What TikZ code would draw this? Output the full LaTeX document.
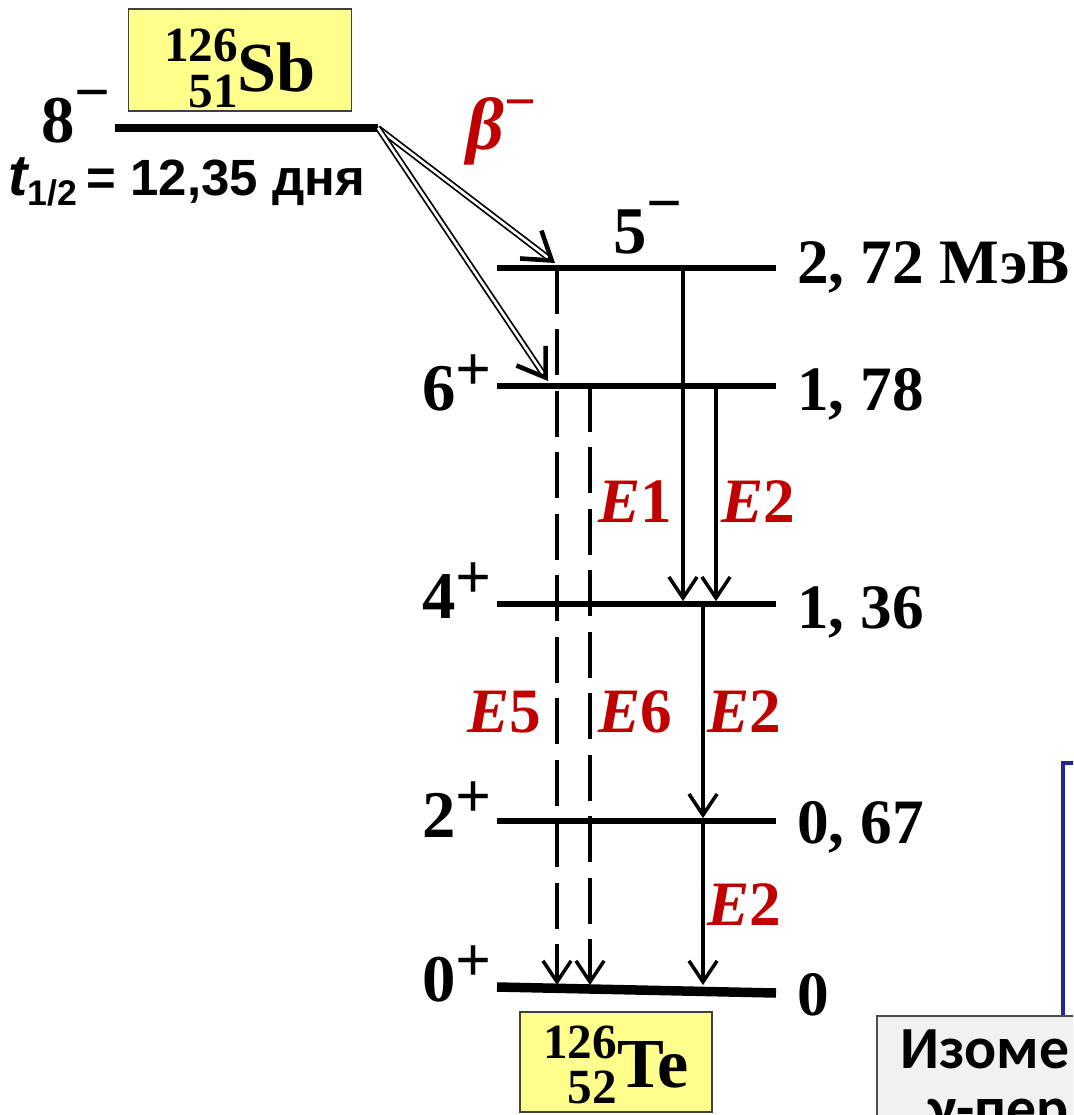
\documentclass[tikz,border=0pt]{standalone}
\usepackage{fontspec}
\setmainfont{Liberation Serif}
\setsansfont{Liberation Sans}
\newfontfamily\notefont{Carlito}
\usetikzlibrary{arrows.meta,calc}

\definecolor{nucyellow}{RGB}{255,255,140}
\definecolor{multred}{RGB}{192,0,0}
\definecolor{linkblue}{RGB}{36,36,150}
\definecolor{notegray}{RGB}{241,241,241}

\newcommand{\spinp}{\raisebox{11pt}{\fontsize{36}{36}\selectfont +}}
\newcommand{\spinm}{\raisebox{16pt}{\fontsize{36}{36}\selectfont −}}
\newcommand{\nuc}[3]{\raisebox{-9pt}{\fontsize{28}{25}\selectfont\begin{tabular}[b]{@{}r@{}}#1\\#2\end{tabular}}#3}

\begin{document}
\begin{tikzpicture}[x=0.02cm,y=-0.02cm,
  nucbox/.style={draw=black!75,line width=0.9pt,fill=nucyellow,inner sep=0pt,text depth=0pt,
    font=\fontsize{40}{42}\selectfont\bfseries},
  sblevel/.style={line width=4.6pt},
  level/.style={line width=3.6pt},
  groundlevel/.style={line width=5.4pt},
  gam/.style={line width=2.1pt,shorten >=1.6pt,
    -{Straight Barb[length=12pt,width=16pt,line width=2pt]}},
  gamdash/.style={gam,dash pattern=on 26pt off 9pt},
  betaline/.style={draw=black,line width=1pt,double=white,double distance=1.5pt,shorten >=5pt},
  betatip/.style={line width=2.5pt,-{Straight Barb[length=15pt,width=20pt,line width=2.6pt]}},
  spinlab/.style={inner sep=0pt,anchor=base east,font=\fontsize{38}{40}\selectfont\bfseries},
  enlab/.style={inner sep=0pt,anchor=base west,font=\fontsize{36}{40}\selectfont\bfseries},
  multlab/.style={inner sep=0pt,anchor=base west,text=multred,font=\fontsize{36}{40}\selectfont\bfseries},
  notebox/.style={draw=black!70,line width=1pt,fill=notegray},
  notetext/.style={inner sep=0pt,anchor=base west,font=\notefont\fontsize{34}{36}\selectfont\bfseries},
  link/.style={draw=linkblue,line width=2.3pt}]
\useasboundingbox (0,0) rectangle (1073,1115);
\clip (0,0) rectangle (1073,1115);

% parent nucleus
\node[nucbox,minimum width=127pt,minimum height=58pt] (sb) at (240,60) {\nuc{126}{51}{Sb}};
\draw[sblevel] (115,128) coordinate (sbL) -- (378,128) coordinate (sbR);
\node[spinlab] (s8) at (111,142) {8\spinm};
\node[inner sep=0pt,anchor=base west,font=\sffamily\bfseries\fontsize{29}{30}\selectfont] (thalf)
  at (8,195) {{\itshape\fontsize{33}{33}\selectfont t}\textsubscript{1/2}\,= 12,35 дня};
\node[inner sep=0pt,anchor=base west,text=multred,font=\fontsize{42}{44}\selectfont\bfseries\itshape]
  (beta) at (466,150) {β\raisebox{17pt}{\fontsize{32}{32}\selectfont\upshape −}};

% levels of the daughter
\foreach \name/\y in {272/268,178/386,136/604,067/821}{
  \coordinate (lv\name) at (0,\y);
  \draw[level] (497,\y) -- (776,\y);
}
\coordinate (lv000) at (0,990);
\draw[groundlevel] (497,987) -- (776,993);

% spins and energies
\node[inner sep=0pt,anchor=base,font=\fontsize{38}{40}\selectfont\bfseries] (s5) at (648,253) {5\spinm};
\node[spinlab] (s6) at (492,410) {6\spinp};
\node[spinlab] (s4) at (492,618) {4\spinp};
\node[spinlab] (s2) at (492,837) {2\spinp};
\node[spinlab] (s0) at (492,1001) {0\spinp};
\node[enlab] (e272) at (797,283) {2, 72 МэВ};
\node[enlab] (e178) at (797,410) {1, 78};
\node[enlab] (e136) at (797,628) {1, 36};
\node[enlab] (e067) at (797,843) {0, 67};
\node[enlab] (e000) at (797,1015) {0};

% beta feeding
\coordinate (b272) at (555,263);
\coordinate (b178) at (548,381);
\draw[betaline] (sbR) -- (b272);
\draw[betaline] (sbR) -- (b178);
\draw[betatip] ($(b272)!3pt!(sbR)$) -- (b272);
\draw[betatip] ($(b178)!3pt!(sbR)$) -- (b178);

% gamma transitions
\draw[gamdash,shorten >=2.8pt] (557,0 |- lv272) -- (557,0 |- lv000);
\draw[gamdash,shorten >=2.8pt] (590,0 |- lv178) -- (590,0 |- lv000);
\draw[gam] (683,0 |- lv272) -- (683,0 |- lv136);
\draw[gam] (716,0 |- lv178) -- (716,0 |- lv136);
\draw[gam] (703,0 |- lv136) -- (703,0 |- lv067);
\draw[gam,shorten >=2.8pt] (703,0 |- lv067) -- (703,0 |- lv000);

\node[multlab] (m1) at (598,522) {{\itshape E}1};
\node[multlab] (m2a) at (721,522) {{\itshape E}2};
\node[multlab] (m5) at (467,732) {{\itshape E}5};
\node[multlab] (m6) at (598,732) {{\itshape E}6};
\node[multlab] (m2b) at (707,732) {{\itshape E}2};
\node[multlab] (m2c) at (707,925) {{\itshape E}2};

% daughter nucleus
\node[nucbox,text depth=6pt,minimum width=109pt,minimum height=57pt] (te) at (616,1062) {\nuc{126}{52}{Te}};

% note box, cut by the frame
\node[notebox,anchor=north west,minimum width=200pt,minimum height=80pt] (note) at (876,1015) {};
\draw[link] (1063,0 |- note.north) -- (1063,763) -- (1100,763);
\node[notetext] (iso) at (900,1068) {Изоме};
\node[notetext] (gtr) at (928,1128) {γ-пер};
\end{tikzpicture}
\end{document}
